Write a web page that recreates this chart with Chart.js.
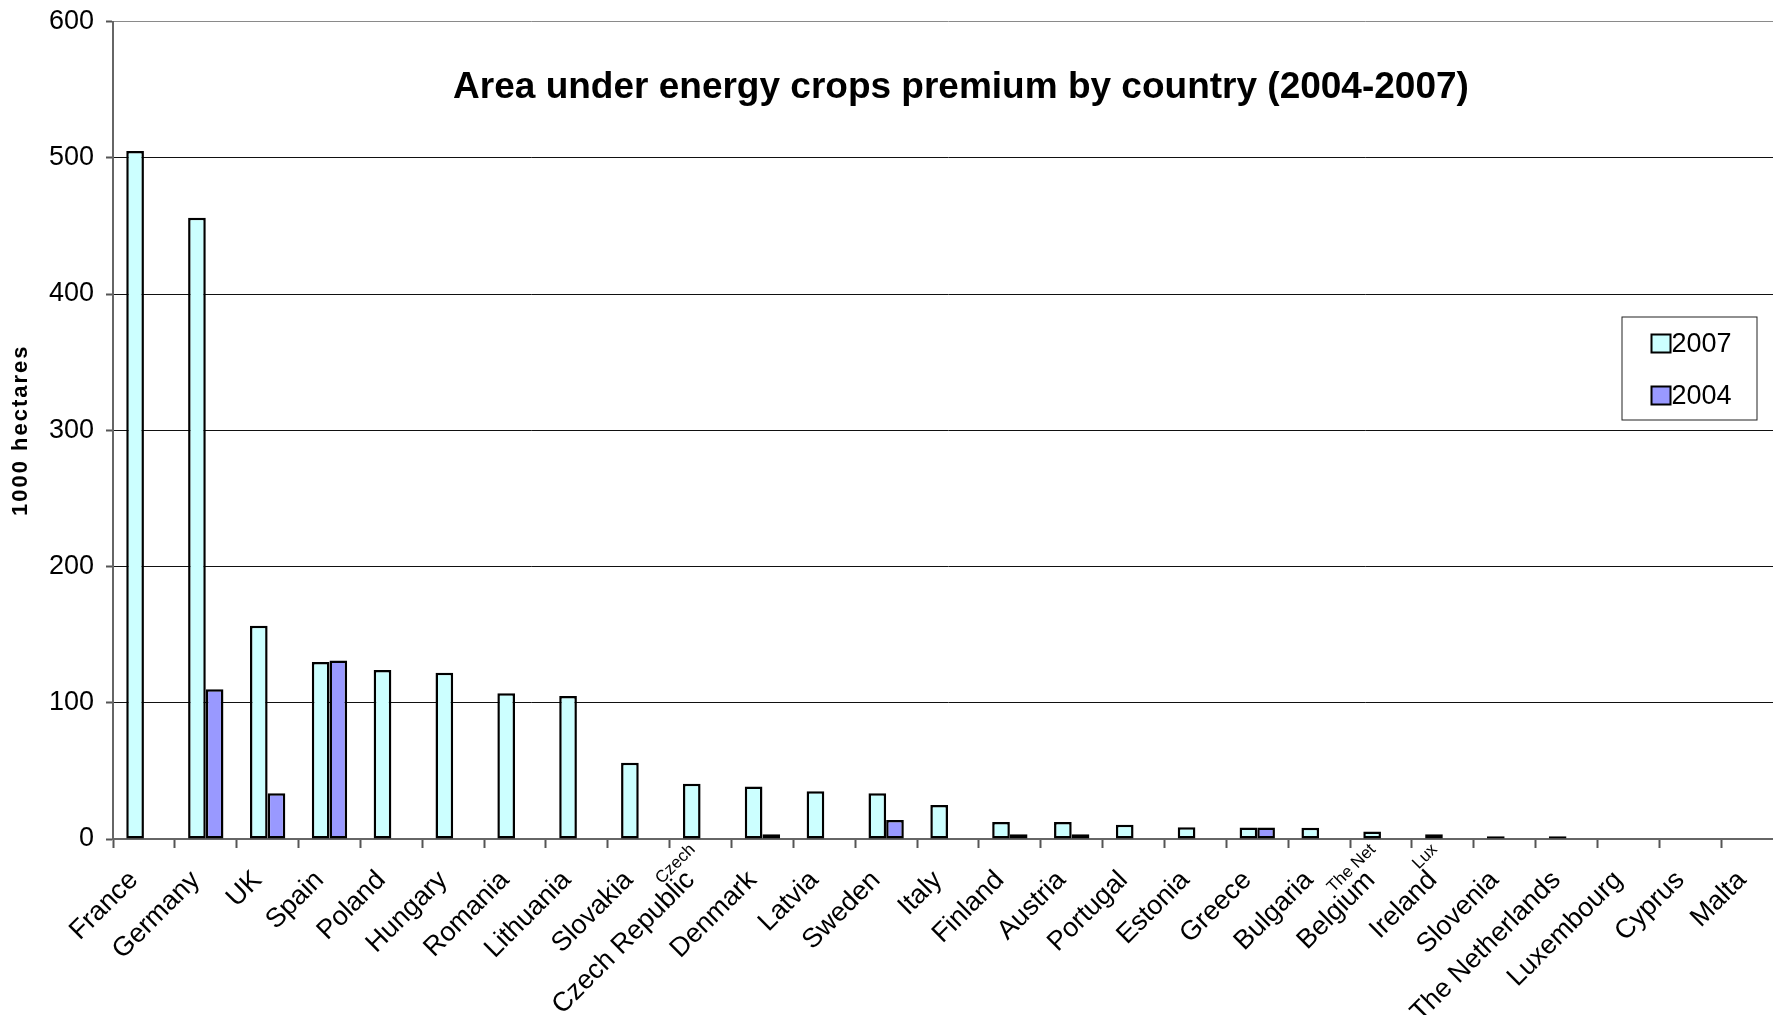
<!DOCTYPE html>
<html>
<head>
<meta charset="utf-8">
<title>Area under energy crops premium by country</title>
<script src="https://cdn.jsdelivr.net/npm/chart.js@4.4.1/dist/chart.umd.min.js"></script>
<style>
  html, body { margin: 0; padding: 0; background: #fff; overflow: hidden; }
  #wrap { width: 1773px; height: 1015px; overflow: hidden; }
</style>
</head>
<body>
<div id="wrap"><canvas id="cropChart" width="1783" height="1015"></canvas></div>
<script>
// categories and values (1000 ha)
const countries = ['France', 'Germany', 'UK', 'Spain', 'Poland', 'Hungary', 'Romania', 'Lithuania',
    'Slovakia', 'Czech Republic', 'Denmark', 'Latvia', 'Sweden', 'Italy', 'Finland', 'Austria',
    'Portugal', 'Estonia', 'Greece', 'Bulgaria', 'Belgium', 'Ireland', 'Slovenia', 'The Netherlands',
    'Luxembourg', 'Cyprus', 'Malta'];
const area2007 = [505, 456, 156.5, 130, 124, 122, 107, 105, 56, 40.5, 38.5, 35, 33.5, 25, 12.5, 12.5,
    10.5, 8.7, 8.4, 8.2, 5.5, 3.5, 2, 2, 0.4, 0, 0];
const area2004 = [0.4, 110, 33.5, 131, 0, 0, 0, 0, 0, 0, 3.5, 0, 14, 0, 3.5, 3.5,
    0, 0, 8.4, 0, 0, 0, 0.4, 0.4, 0, 0, 0];
const seriesNames = ['2007', '2004'];
const yTicks = [0, 100, 200, 300, 400, 500, 600];
// leftover, cut-off labels sitting just under the axis in the original
const strayLabels = ['', '', '', '', '', '', '', '', '', 'Czech', '', '', '', '', '', '', '',
    '', '', '', 'The Net', 'Lux', '', '', '', '', ''];

const FONT = "'Liberation Sans', Arial, sans-serif";
Chart.defaults.font.family = FONT;
Chart.defaults.color = '#000';

// title, axis title, legend box and the stray labels are drawn by hand
const extrasPlugin = {
    id: 'extras',
    afterDraw(chart) {
        const ctx = chart.ctx;
        const area = chart.chartArea;
        const xScale = chart.scales.x;

        ctx.save();
        ctx.fillStyle = '#000';
        ctx.font = 'bold 37px ' + FONT;
        ctx.textAlign = 'center';
        ctx.textBaseline = 'middle';
        ctx.fillText('Area under energy crops premium by country (2004-2007)', area.left + 848, area.top + 66);

        // y axis title, a bit letter-spaced like the original
        ctx.save();
        ctx.font = 'bold 22px ' + FONT;
        ctx.letterSpacing = '2px';
        ctx.translate(21, (area.top + area.bottom) / 2);
        ctx.rotate(-Math.PI / 2);
        ctx.fillText('1000 hectares', 0, 0);
        ctx.restore();

        // stray labels
        ctx.font = '17px ' + FONT;
        ctx.textAlign = 'right';
        ctx.textBaseline = 'middle';
        strayLabels.forEach((txt, i) => {
            if (!txt) return;
            const x = xScale.getPixelForValue(i) - 8;
            ctx.save();
            ctx.translate(x, area.bottom + 8);
            ctx.rotate(-Math.PI / 4);
            ctx.fillText(txt, 0, 0);
            ctx.restore();
        });

        // legend
        const boxW = 135, boxH = 103;
        const boxX = area.right - 26.5 - boxW;
        const boxY = area.top + 295;
        ctx.fillStyle = '#fff';
        ctx.fillRect(boxX, boxY, boxW, boxH);
        ctx.strokeStyle = '#222';
        ctx.lineWidth = 1;
        ctx.strokeRect(boxX + 0.5, boxY + 0.5, boxW, boxH);
        ctx.font = '27px ' + FONT;
        ctx.textAlign = 'left';
        chart.data.datasets.forEach((ds, i) => {
            const cy = boxY + 27 + i * 52;
            ctx.fillStyle = ds.backgroundColor;
            ctx.fillRect(boxX + 30, cy - 9, 19, 18);
            ctx.strokeStyle = '#000';
            ctx.lineWidth = 2;
            ctx.strokeRect(boxX + 30, cy - 9, 19, 18);
            ctx.fillStyle = '#000';
            ctx.fillText(ds.label, boxX + 50, cy + 1);
        });
        ctx.restore();
    }
};

new Chart(document.getElementById('cropChart'), {
    type: 'bar',
    data: {
        labels: countries,
        datasets: [{
            label: seriesNames[0],
            data: area2007,
            backgroundColor: '#CCFFFF',
            borderColor: '#000',
            borderWidth: 2.5,
            borderSkipped: false
        }, {
            label: seriesNames[1],
            data: area2004,
            backgroundColor: '#9999FF',
            borderColor: '#000',
            borderWidth: 2.5,
            borderSkipped: false
        }]
    },
    options: {
        responsive: false,
        animation: false,
        devicePixelRatio: 1,
        categoryPercentage: 2 / 3.5,
        barPercentage: 1,
        layout: { padding: { top: 21.5, left: 0, right: 0, bottom: 0 } },
        plugins: {
            legend: { display: false },
            tooltip: { enabled: false },
            title: { display: false }
        },
        scales: {
            x: {
                grid: {
                    drawOnChartArea: false,
                    drawTicks: true,
                    tickLength: 9,
                    tickColor: '#555',
                    tickWidth: 2
                },
                border: { color: '#666', width: 2 },
                ticks: {
                    autoSkip: false,
                    minRotation: 45,
                    maxRotation: 45,
                    padding: 27,
                    labelOffset: -10,
                    font: { size: 27, lineHeight: 0.1 },
                    color: '#000'
                },
                afterFit(scale) { scale.height = 176; }
            },
            y: {
                min: 0,
                max: 600,
                afterBuildTicks(scale) { scale.ticks = yTicks.map(v => ({ value: v })); },
                grid: {
                    color: (c) => (c.tick && c.tick.value === 600 ? '#8a8a8a' : '#111'),
                    lineWidth: 1,
                    tickLength: 7,
                    tickColor: '#555',
                    tickWidth: 2
                },
                border: { color: '#666', width: 2 },
                ticks: {
                    padding: 12,
                    font: { size: 27 },
                    color: '#000'
                },
                title: { display: false },
                afterFit(scale) {
                    scale.width = 113;
                    scale.paddingTop = 0;
                    scale.paddingBottom = 0;
                }
            }
        }
    },
    plugins: [extrasPlugin]
});
</script>
</body>
</html>
